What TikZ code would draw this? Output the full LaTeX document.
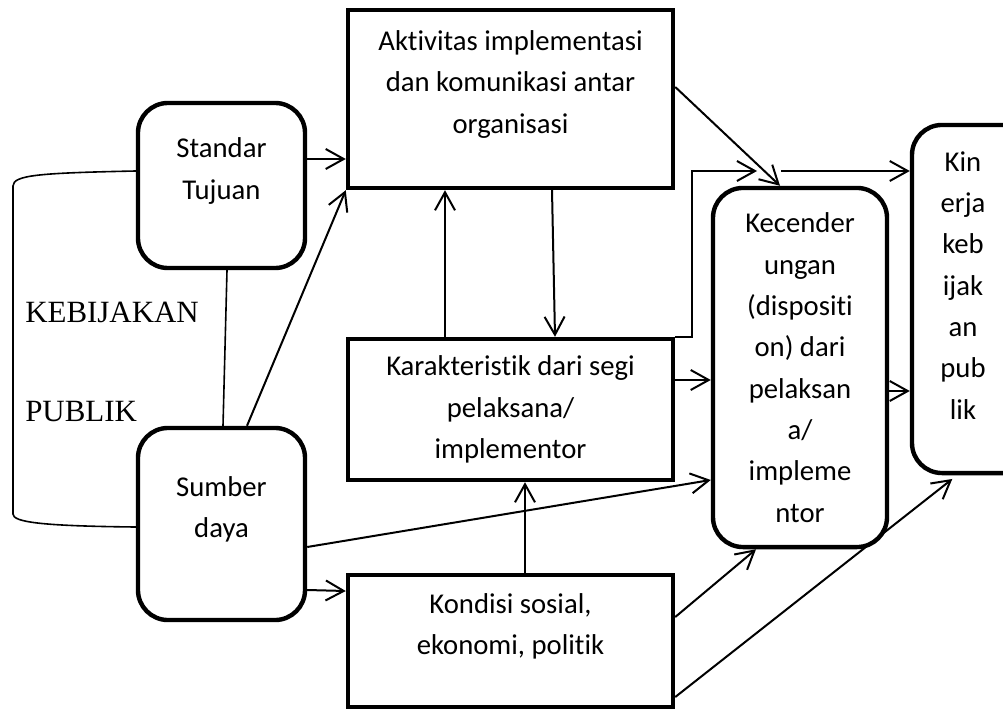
\documentclass[tikz,border=0pt]{standalone}
\usepackage{fontspec}
\setmainfont[Ligatures=NoCommon]{Carlito}
\newfontfamily\serifkb{Liberation Serif}
\usetikzlibrary{arrows.meta}

\begin{document}
\begin{tikzpicture}[
  x=0.025cm, y=-0.025cm,
  box/.style={draw, rectangle, line width=0.11cm, align=center, inner sep=0pt,
    font=\fontsize{20.4}{29.4}\selectfont},
  rbox/.style={box, rounded corners=0.75cm},
  toptext/.style={text depth=0.85cm},
  arrow/.style={-{Straight Barb[length=0.45cm, width=0.5cm]}, line width=0.05cm},
  link/.style={line width=0.04cm},
  bigtext/.style={anchor=west, inner sep=0pt, font=\serifkb\fontsize{22}{26}\selectfont}
]
\useasboundingbox (0,0) rectangle (1003,709);
\clip (0,0) rectangle (1003,709);

% Left column: standar and sumber daya
\node[rbox, toptext, minimum width=4.175cm, minimum height=4.125cm] (standar)
  at (221.5,185.5) {Standar\\Tujuan};
\node[rbox, toptext, minimum width=4.175cm, minimum height=4.8cm] (sumber)
  at (221.5,524) {Sumber\\daya};

% Middle column
\node[box, toptext, minimum width=8.125cm, minimum height=4.45cm] (aktivitas)
  at (510.5,99) {Aktivitas implementasi\\dan komunikasi antar\\organisasi};
\node[box, minimum width=8.125cm, minimum height=3.525cm] (karakter)
  at (510.5,409.5) {Karakteristik dari segi\\pelaksana/\\implementor};
\node[box, toptext, minimum width=8.125cm, minimum height=3.3cm] (kondisi)
  at (510.5,641) {Kondisi sosial,\\ekonomi, politik};

% Right column (kinerja runs off the right edge)
\node[rbox, minimum width=4.35cm, minimum height=8.975cm] (disposisi)
  at (800,367.5) {Kecender\\ungan\\(dispositi\\on) dari\\pelaksan\\a/\\impleme\\ntor};
\node[rbox, text depth=0.91cm, minimum width=3.2cm, minimum height=8.7cm] (kinerja)
  at (976,299) {\hspace*{-0.65cm}\begin{tabular}[b]{@{}c@{}}
  Kin\\erja\\keb\\ijak\\an\\pub\\lik\end{tabular}};

% Kebijakan publik bracket
\node[bigtext] (kebijakan) at (25,312) {KEBIJAKAN};
\node[bigtext] (publik) at (25,412) {PUBLIK};
\draw[link] (standar.west |- 0,171) .. controls (40,173) and (13,175) .. (13,186)
  -- (13,514) .. controls (13,522) and (40,526) .. (sumber.west |- 0,527);

\coordinate (meet) at (757,171);
\coordinate (split) at (781,171);

% Arrows
\draw[arrow] (standar.east |- 0,159) -- (aktivitas.west |- 0,159);
\draw[link] (standar.south -| 227,0) -- (sumber.north -| 223,0);
\draw[arrow] (sumber.north -| 247,0) -- (aktivitas.south west);
\draw[arrow] (sumber.east |- 0,547) -- (disposisi.west |- 0,480);
\draw[arrow] (sumber.east |- 0,590) -- (kondisi.west |- 0,591);
\draw[arrow] (karakter.north -| 445,0) -- (aktivitas.south -| 445,0);
\draw[arrow] (aktivitas.south -| 552,0) -- (karakter.north -| 555,0);
\draw[arrow] (aktivitas.east |- 0,87) -- (disposisi.north -| 780,0);
\draw[arrow] (karakter.north east) -| (692,171) -- (meet);
\draw[arrow] (split) -- (kinerja.west |- split);
\draw[arrow] (karakter.east |- 0,380) -- (disposisi.west |- 0,380);
\draw[arrow] (disposisi.east |- 0,391) -- (kinerja.west |- 0,391);
\draw[arrow] (kondisi.north -| 525,0) -- (karakter.south -| 525,0);
\draw[arrow] (kondisi.east |- 0,617) -- (disposisi.south -| 756,0);
\draw[arrow, shorten >=0.15cm] (kondisi.east |- 0,697) -- (kinerja.south -| 957,0);

\end{tikzpicture}
\end{document}
